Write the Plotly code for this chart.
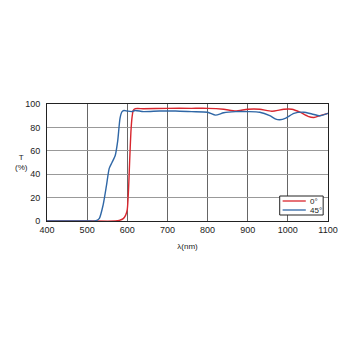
import plotly.graph_objects as go

wl_0 = [400, 500, 570, 580, 590, 596, 600, 603, 606, 609, 612, 615, 620, 640, 700, 760, 800, 840, 870, 900, 930, 960, 990, 1010, 1030, 1050, 1065, 1080, 1100]
t_0 = [0, 0, 0, 0.5, 2, 5, 10, 26, 52, 76, 89, 94.5, 96, 96, 96.3, 96.3, 96.3, 95.5, 94, 95.5, 95.5, 93.8, 95.5, 95.5, 93, 89.5, 88.5, 90, 92]

wl_45 = [400, 500, 520, 530, 540, 548, 555, 562, 570, 576, 582, 587, 592, 600, 610, 620, 640, 680, 720, 760, 800, 820, 840, 870, 900, 930, 955, 970, 980, 995, 1015, 1040, 1060, 1080, 1100]
t_45 = [0, 0, 0, 2, 14, 30, 45, 50, 56, 68, 88, 93.5, 94.5, 94, 93.5, 94.5, 93.5, 94, 94, 93.5, 93, 90.5, 92.5, 93.5, 93.5, 93, 90, 87, 86.5, 88, 92, 93, 91.5, 90, 92]

x_ticks = [400, 500, 600, 700, 800, 900, 1000, 1100]
y_ticks = [0, 20, 40, 60, 80, 100]
series_names = ["0°", "45°"]
series_colors = ["#d8262e", "#2f67a6"]

# page has an 8px body margin; figure sized so plot lands at x 47..338, y 104..221
W, H = 342, 342
L, R, T, B = 39, 12, 96, 129
PW, PH = W - L - R, H - T - B


def px_x(sx):
    return (sx - 8 - L) / PW


def px_y(sy):
    return (H - B - (sy - 8)) / PH


fig = go.Figure()
fig.add_trace(go.Scatter(x=wl_0, y=t_0, mode="lines", name=series_names[0],
                         line=dict(color=series_colors[0], width=1.4, shape="spline", smoothing=0.6)))
fig.add_trace(go.Scatter(x=wl_45, y=t_45, mode="lines", name=series_names[1],
                         line=dict(color=series_colors[1], width=1.4, shape="spline", smoothing=0.6)))

shapes = [
    dict(type="rect", xref="x domain", yref="y domain",
         x0=px_x(288), x1=px_x(333), y0=px_y(215), y1=px_y(196),
         line=dict(color="#222", width=1), fillcolor="white", layer="above"),
]
annotations = [
    dict(text="T<br>(%)", xref="x domain", yref="y domain", x=px_x(12), y=px_y(162),
         showarrow=False, font=dict(size=8, color="#222")),
]
for i, (nm, col) in enumerate(zip(series_names, series_colors)):
    yy = 201 + i * 9
    shapes.append(dict(type="line", xref="x domain", yref="y domain",
                       x0=px_x(291), x1=px_x(315), y0=px_y(yy), y1=px_y(yy),
                       line=dict(color=col, width=1.3), layer="above"))
    annotations.append(dict(text=nm, xref="x domain", yref="y domain",
                            x=px_x(317), y=px_y(yy), xanchor="left", yanchor="middle",
                            showarrow=False, font=dict(size=8, color="#222")))

fig.update_layout(
    width=W, height=H,
    margin=dict(l=L, r=R, t=T, b=B),
    paper_bgcolor="white", plot_bgcolor="white",
    font=dict(family="Liberation Sans, Arial, sans-serif", size=9, color="#222"),
    showlegend=False,
    shapes=shapes,
    annotations=annotations,
)

fig.update_xaxes(range=[400, 1100], tickvals=x_ticks, ticks="", showgrid=True,
                 gridcolor="#666", gridwidth=1, showline=True, linecolor="#222",
                 linewidth=1, mirror=True, zeroline=False,
                 title=dict(text="λ(nm)", font=dict(size=8, color="#222"), standoff=9))
fig.update_yaxes(range=[0, 100], tickvals=y_ticks, ticks="", showgrid=True,
                 gridcolor="#999", gridwidth=1, showline=True, linecolor="#222",
                 linewidth=1, mirror=True, zeroline=False, ticklabelstandoff=4)

fig.write_html("out.html")
